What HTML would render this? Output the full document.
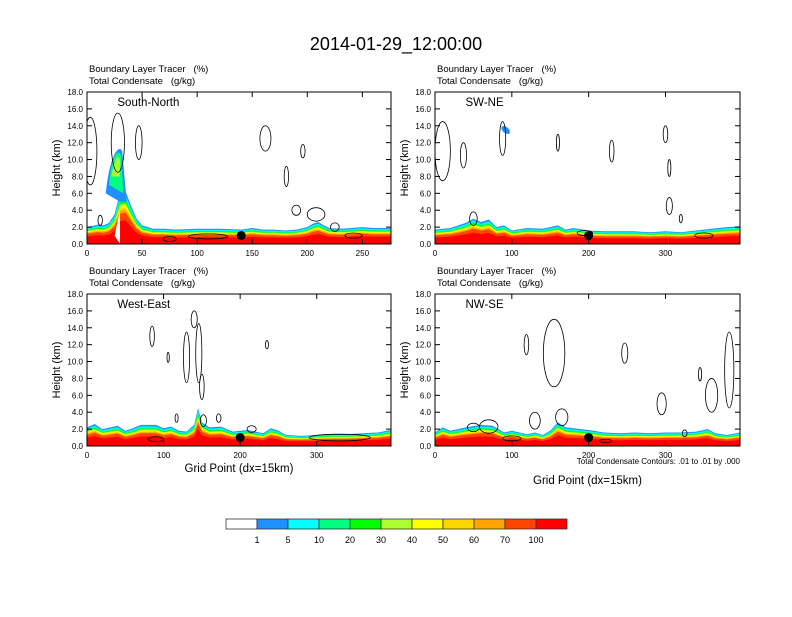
<!DOCTYPE html>
<html><head><meta charset="utf-8"><style>
body{margin:0;background:#fff;}
svg text{font-family:"Liberation Sans",sans-serif;white-space:pre;}
</style></head><body>
<svg id="svg" width="792" height="612" viewBox="0 0 792 612" xmlns="http://www.w3.org/2000/svg">
<text x="396" y="50" font-size="18" text-anchor="middle">2014-01-29_12:00:00</text>
<g id="panels"></g>
<g id="cbar"></g>
</svg>
<script>
const cbLabels = ["1","5","10","20","30","40","50","60","70","100"];
const cbColors = ["#ffffff","#1e90ff","#00ffff","#00ff7f","#00ff00","#adff2f","#ffff00","#ffd700","#ffa500","#ff4500","#ff0000"];
const layerFrac = [1.0,0.93,0.87,0.82,0.78,0.74,0.70,0.66,0.60,0.45];

const p1X = [0,10,15,20,25,30,35,40,45,50,60,70,80,100,120,140,150,160,170,180,190,200,205,210,215,220,230,240,250,260,276];
const p1H = [2.0,2.3,2.2,2.5,3.5,6.0,6.2,4.5,3.0,2.2,1.8,1.8,1.7,1.8,1.8,1.7,1.9,1.7,1.7,1.6,1.7,2.0,2.4,2.6,2.2,1.9,1.8,1.9,2.0,1.9,1.9];
const p2X = [0,20,40,50,60,70,80,90,100,120,140,160,170,180,200,220,240,260,280,300,320,340,360,380,397];
const p2H = [1.7,1.9,2.5,3.0,2.6,2.9,2.0,2.2,1.6,1.9,1.8,2.2,1.7,1.9,1.6,1.5,1.5,1.5,1.4,1.5,1.4,1.6,1.8,2.0,2.1];
const p3X = [0,10,20,40,50,60,70,90,100,110,120,130,140,145,150,160,175,190,210,230,240,250,260,280,300,320,340,360,380,397];
const p3H = [2.2,2.6,2.0,2.4,1.8,2.1,2.5,2.5,2.1,2.3,1.8,1.7,2.5,4.5,2.8,2.2,2.3,1.7,1.9,1.5,2.1,1.8,1.3,1.2,1.3,1.4,1.4,1.5,1.6,1.9];
const p4X = [0,10,20,40,60,75,90,100,110,120,130,140,150,160,170,180,200,220,240,260,280,300,320,340,355,365,380,397];
const p4H = [1.6,2.2,1.8,2.2,2.5,2.4,1.6,1.8,1.6,1.4,1.6,1.3,1.8,2.8,2.2,2.1,1.9,1.6,1.5,1.6,1.5,1.6,1.6,1.7,2.0,1.5,1.3,1.6];

const p1C = [[3,11,6,4],[28,12,6,3.5],[47,12,3,2],[162,12.5,5,1.5],[181,8,2,1.2],[196,11,2,0.8],[190,4,4,0.6],[208,3.5,8,0.8],[225,2,4,0.5],[12,2.8,2,0.6],[110,0.9,18,0.3],[242,1,8,0.3],[75,0.6,6,0.3]];
const p2C = [[10,11,10,3.5],[37,10.5,4,1.5],[88,12.5,4,2],[160,12,2,1],[230,11,3,1.3],[300,13,3,1],[305,9,2,1],[305,4.5,4,1],[320,3,2,0.5],[50,3,5,0.8],[195,1.3,10,0.3],[350,1,12,0.3]];
const p3C = [[85,13,3,1.2],[106,10.5,1.5,0.6],[130,10.5,4,3],[140,15,4,1],[146,11,4,3.5],[150,7,3,1.5],[152,3,4,0.7],[172,3.3,3,0.5],[117,3.3,2,0.5],[235,12,2,0.5],[90,0.8,10,0.3],[330,1,40,0.4],[215,2,6,0.4]];
const p4C = [[155,11,14,4],[119,12,3,1.2],[247,11,4,1.2],[295,5,6,1.3],[345,8.5,2,0.8],[360,6,8,2],[383,9,6,4.5],[165,3.4,8,1],[130,3,7,1],[50,2.2,8,0.5],[70,2.3,12,0.8],[325,1.5,3,0.4],[222,0.6,8,0.2],[100,0.9,12,0.3]];

const panels = [
 {name:"south-north", title:"South-North", L:87,T:92,W:304,H:152, xmax:276, ticks:[0,50,100,150,200,250], X:p1X, Hs:p1H, C:p1C, dot:140, xlabel:false, plume:true},
 {name:"sw-ne", title:"SW-NE", L:435,T:92,W:305,H:152, xmax:397, ticks:[0,100,200,300], X:p2X, Hs:p2H, C:p2C, dot:200, xlabel:false, streak:true},
 {name:"west-east", title:"West-East", L:87,T:294,W:304,H:152, xmax:397, ticks:[0,100,200,300], X:p3X, Hs:p3H, C:p3C, dot:200, xlabel:true, xlabY:472},
 {name:"nw-se", title:"NW-SE", L:435,T:294,W:305,H:152, xmax:397, ticks:[0,100,200,300], X:p4X, Hs:p4H, C:p4C, dot:200, xlabel:true, xlabY:484, note:true}
];
const NS="http://www.w3.org/2000/svg";
function mk(tag,attrs,parent){const e=document.createElementNS(NS,tag);for(const k in attrs)e.setAttribute(k,attrs[k]);parent.appendChild(e);return e;}
const root=document.getElementById('panels');
panels.forEach(p=>{
  const g=mk('g',{},root);
  
  
  const sx=v=>p.L+v/p.xmax*p.W, sy=v=>p.T+p.H-v/18*p.H;
  const cid='clip-'+p.name;
  const cp=mk('clipPath',{id:cid},g); mk('rect',{x:p.L,y:p.T,width:p.W,height:p.H},cp);
  const dg=mk('g',{'clip-path':'url(#'+cid+')'},g);
  layerFrac.forEach((f,i)=>{
    let d='M'+sx(p.X[0])+','+sy(0);
    p.X.forEach((x,j)=>{d+=' L'+sx(x).toFixed(1)+','+sy(p.Hs[j]*f).toFixed(1);});
    d+=' L'+sx(p.X[p.X.length-1])+','+sy(0)+'Z';
    const e=mk('path',{d:d,fill:cbColors[i+1]},dg);
    
    
  });
  if(p.plume){
    mk('path',{d:`M${sx(17)},${sy(6)} C${sx(20)},${sy(10)} ${sx(28)},${sy(12)} ${sx(32)},${sy(11)} L${sx(36)},${sy(5)} L${sx(30)},${sy(5)}Z`,fill:'#1e90ff'},dg);
    mk('path',{d:`M${sx(20)},${sy(7)} C${sx(22)},${sy(10)} ${sx(27)},${sy(11.5)} ${sx(31)},${sy(10.5)} L${sx(33)},${sy(6)}Z`,fill:'#00ff7f'},dg);
    mk('path',{d:`M${sx(22)},${sy(8)} C${sx(25)},${sy(10)} ${sx(28)},${sy(10.8)} ${sx(30)},${sy(10)} L${sx(30)},${sy(8)}Z`,fill:'#adff2f'},dg);
    mk('path',{d:`M${sx(30)},${sy(0)} L${sx(30)},${sy(4)} L${sx(25)},${sy(1)}Z`,fill:'#fff'},dg);
  }
  if(p.streak){
    mk('ellipse',{cx:sx(92),cy:sy(13.5),rx:5,ry:3,fill:'#1e90ff',transform:`rotate(40 ${sx(92)} ${sy(13.5)})`},dg);
  }
  p.C.forEach(c=>{
    const e=mk('ellipse',{cx:sx(c[0]),cy:sy(c[1]),rx:c[2]/p.xmax*p.W,ry:c[3]/18*p.H,fill:'none',stroke:'#000','stroke-width':0.8},dg);
    
    
  });
  const dot=mk('circle',{cx:sx(p.dot),cy:sy(1),r:4.5,fill:'#000'},g);
  
  
  mk('rect',{x:p.L,y:p.T,width:p.W,height:p.H,fill:'none',stroke:'#000','stroke-width':1},g);
  for(let v=0;v<=18;v+=2){
    const y=sy(v);
    mk('line',{x1:p.L,x2:p.L+5,y1:y,y2:y,stroke:'#000'},g);
    mk('line',{x1:p.L+p.W,x2:p.L+p.W-5,y1:y,y2:y,stroke:'#000'},g);
    const t=mk('text',{x:p.L-4,y:y+3,'font-size':8,'text-anchor':'end'},g);t.textContent=v.toFixed(1);
    
    
  }
  p.ticks.forEach(v=>{
    const x=sx(v);
    mk('line',{x1:x,x2:x,y1:p.T+p.H,y2:p.T+p.H-5,stroke:'#000'},g);
    mk('line',{x1:x,x2:x,y1:p.T,y2:p.T+5,stroke:'#000'},g);
    const t=mk('text',{x:x,y:p.T+p.H+12,'font-size':8,'text-anchor':'middle'},g);t.textContent=v;
    
    
  });
  const yl=mk('text',{x:0,y:0,'font-size':11,'text-anchor':'middle',transform:`translate(${p.L-27},${p.T+p.H/2}) rotate(-90)`},g);yl.textContent='Height (km)';
  
  
  const h1=mk('text',{x:p.L+2,y:p.T-20,'font-size':9.5},g);h1.textContent='Boundary Layer Tracer   (%)';
  
  
  const h2=mk('text',{x:p.L+2,y:p.T-8,'font-size':9.5},g);h2.textContent='Total Condensate   (g/kg)';
  
  
  const pt=mk('text',{x:p.L+p.W*0.1,y:p.T+14,'font-size':11.5},g);pt.textContent=p.title;
  
  
  if(p.xlabel){
    const xl=mk('text',{x:p.L+p.W/2,y:p.xlabY,'font-size':11.5,'text-anchor':'middle'},g);xl.textContent='Grid Point (dx=15km)';
    
    
  }
  if(p.note){
    const nt=mk('text',{x:p.L+p.W,y:p.T+p.H+18,'font-size':8,'text-anchor':'end'},g);nt.textContent='Total Condensate Contours: .01 to .01 by .000';
    
    
  }
});
const cb=document.getElementById('cbar');
const bx=226,bw=31,by=519,bh=10;
cbColors.forEach((c,i)=>{
  const r=mk('rect',{x:bx+i*bw,y:by,width:bw,height:bh,fill:c,stroke:'#333','stroke-width':0.8},cb);
  
  
});
cbLabels.forEach((l,i)=>{
  const t=mk('text',{x:bx+(i+1)*bw,y:by+24,'font-size':9,'text-anchor':'middle'},cb);t.textContent=l;
  
  
});
</script>
</body></html>
